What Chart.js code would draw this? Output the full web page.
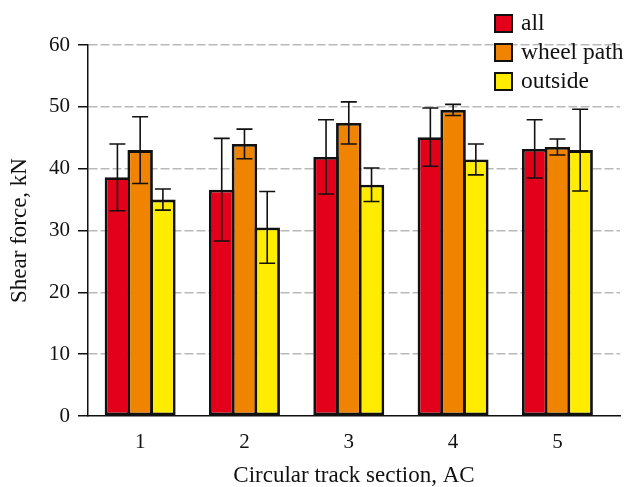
<!DOCTYPE html>
<html>
<head>
<meta charset="utf-8">
<script src="https://cdn.jsdelivr.net/npm/chart.js@4.4.1/dist/chart.umd.min.js"></script>
<style>
    body { margin: 0; background: #fff; }
    #wrap { width: 629px; height: 487px; position: relative; }
</style>
</head>
<body>
<div id="wrap"><canvas id="canvas_shear_force"></canvas></div>
<script>
const categories = ['1', '2', '3', '4', '5'];
const series_labels = ['all', 'wheel path', 'outside'];
const series_colors = ['#e2001a', '#f08300', '#ffec00'];
const values_all = [38.6, 36.6, 41.9, 45.1, 43.2];
const values_wheel = [43.0, 44.0, 47.4, 49.5, 43.5];
const values_outside = [35.0, 30.5, 37.4, 41.5, 43.0];
const errors_all = [5.4, 8.3, 6.0, 4.7, 4.7];
const errors_wheel = [5.4, 2.4, 3.4, 0.9, 1.3];
const errors_outside = [1.7, 5.8, 2.7, 2.5, 6.6];
const y_ticks = [0, 10, 20, 30, 40, 50, 60];

const font_family = "'Liberation Serif', 'DejaVu Serif', serif";

function build_points(values) {
    let points = [];
    for (let count = 0; count < categories.length; count++) {
        points.push({ x: count + 1, y: values[count] });
    }
    return points;
}

const all_values = [values_all, values_wheel, values_outside];
const all_errors = [errors_all, errors_wheel, errors_outside];

let datasets = [];
for (let count = 0; count < series_labels.length; count++) {
    datasets.push({
        label: series_labels[count],
        data: build_points(all_values[count]),
        errors: all_errors[count],
        backgroundColor: series_colors[count],
        borderColor: '#111',
        borderWidth: 2.8,
        borderSkipped: false,
        barPercentage: 1.12,
        categoryPercentage: 0.654,
        inflateAmount: 0
    });
}

// error bars, drawn with the y scale
const error_bars = {
    id: 'error_bars',
    afterDatasetsDraw(chart) {
        const ctx = chart.ctx;
        const y = chart.scales.y;
        ctx.save();
        ctx.strokeStyle = '#111';
        ctx.lineWidth = 1.6;
        chart.data.datasets.forEach(function (ds, i) {
            const meta = chart.getDatasetMeta(i);
            meta.data.forEach(function (bar, j) {
                const v = ds.data[j].y;
                const e = ds.errors[j];
                const top = y.getPixelForValue(v + e);
                const bottom = y.getPixelForValue(v - e);
                ctx.beginPath();
                ctx.moveTo(bar.x, top);
                ctx.lineTo(bar.x, bottom);
                ctx.moveTo(bar.x - 8, top);
                ctx.lineTo(bar.x + 8, top);
                ctx.moveTo(bar.x - 8, bottom);
                ctx.lineTo(bar.x + 8, bottom);
                ctx.stroke();
            });
        });
        ctx.restore();
    }
};

// legend in the top right corner
const corner_legend = {
    id: 'corner_legend',
    afterDraw(chart) {
        const ctx = chart.ctx;
        ctx.save();
        ctx.font = '23.5px ' + font_family;
        ctx.textBaseline = 'middle';
        chart.data.datasets.forEach(function (ds, i) {
            const top = 15 + i * 29;
            ctx.fillStyle = ds.backgroundColor;
            ctx.fillRect(495, top, 17, 17);
            ctx.strokeStyle = '#111';
            ctx.lineWidth = 2;
            ctx.strokeRect(495, top, 17, 17);
            ctx.fillStyle = '#111';
            ctx.fillText(ds.label, 521, top + 9);
        });
        ctx.restore();
    }
};

const group_chart = document.getElementById('canvas_shear_force');
const graph = new Chart(group_chart, {
    type: 'bar',
    data: { datasets: datasets },
    options: {
        responsive: true,
        maintainAspectRatio: false,
        animation: false,
        layout: { padding: { top: 45, right: 9, left: 0, bottom: 0 } },
        plugins: {
            legend: { display: false },
            tooltip: { enabled: false }
        },
        scales: {
            x: {
                type: 'linear',
                min: 0.5,
                max: 5.6,
                offset: false,
                afterFit: function (scale) { scale.height = 71; },
                grid: { display: false, drawTicks: false },
                border: { color: '#111', width: 1.5 },
                ticks: {
                    stepSize: 1,
                    includeBounds: false,
                    padding: 14,
                    color: '#111',
                    font: { family: font_family, size: 21 },
                    callback: function (value) {
                        return categories[value - 1];
                    }
                },
                title: {
                    display: true,
                    text: 'Circular track section, AC',
                    color: '#111',
                    font: { family: font_family, size: 23, lineHeight: 1 },
                    padding: { top: 0, bottom: 0 }
                }
            },
            y: {
                min: 0,
                max: 60,
                afterFit: function (scale) { scale.width = 88; },
                afterBuildTicks: function (scale) {
                    scale.ticks = y_ticks.map(function (v) { return { value: v }; });
                },
                grid: {
                    color: function (c) { return c.tick && c.tick.value === 0 ? 'rgba(0,0,0,0)' : '#b9b9b9'; },
                    lineWidth: 1.5,
                    tickColor: '#111',
                    tickLength: 10,
                    tickWidth: 1.5,
                    tickBorderDash: []
                },
                border: { color: '#111', width: 1.5, dash: [9, 3] },
                ticks: {
                    padding: 8,
                    color: '#111',
                    font: { family: font_family, size: 21 }
                },
                title: {
                    display: true,
                    text: 'Shear force, kN',
                    color: '#111',
                    font: { family: font_family, size: 23, lineHeight: 1 },
                    padding: { top: 8, bottom: 0 }
                }
            }
        }
    },
    plugins: [error_bars, corner_legend]
});
</script>
</body>
</html>
